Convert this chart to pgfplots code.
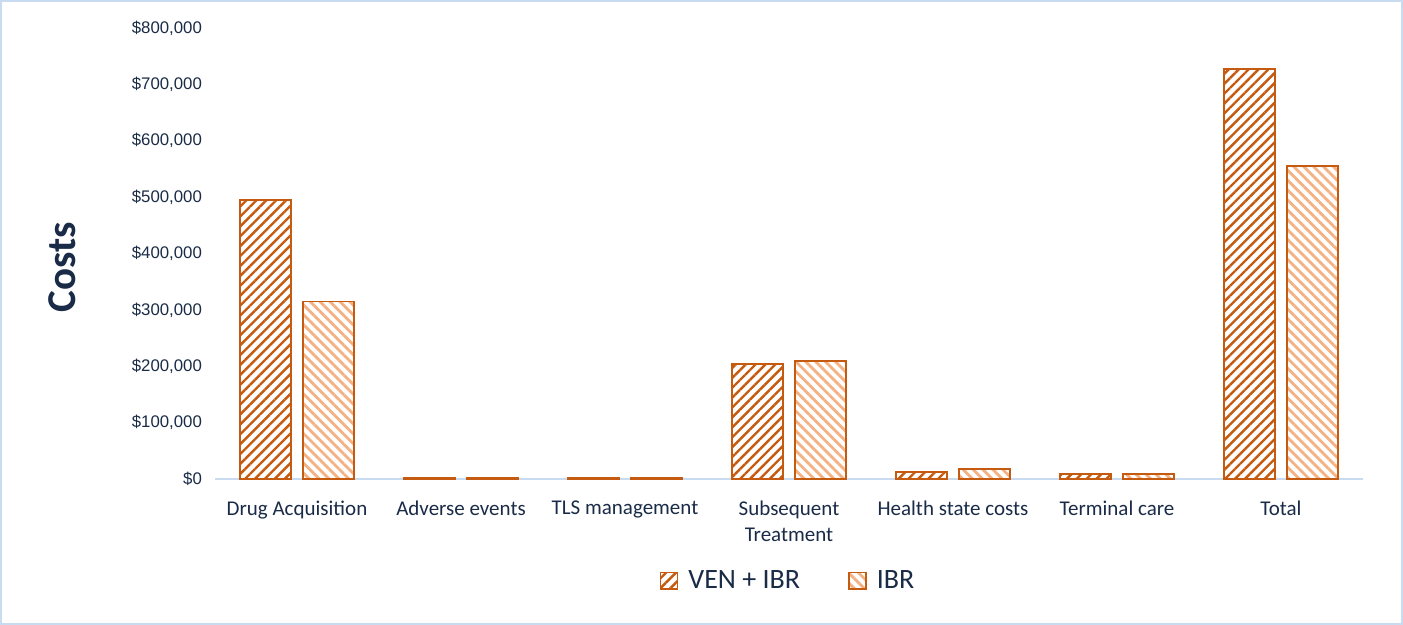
\documentclass[border=0pt]{standalone}
\usepackage{fontspec}
\setmainfont{Carlito}
\newfontfamily\tickfont{Liberation Sans}
\usepackage{pgfplots}
\pgfplotsset{compat=1.18}
\usetikzlibrary{patterns.meta}
\definecolor{dorange}{HTML}{C55A11}
\definecolor{lorange}{HTML}{F4B183}
\definecolor{txt}{HTML}{1A2B47}
\definecolor{bblue}{HTML}{C9DBF0}
\begin{document}
\begin{tikzpicture}
\path[use as bounding box] (0,0) rectangle (701.5pt,312.5pt);
\draw[bblue, line width=1.2pt] (0.6pt,0.6pt) rectangle (700.9pt,311.9pt);
\begin{axis}[
  at={(107.5pt,73pt)}, anchor=south west,
  scale only axis, width=574pt, height=225.5pt,
  xmin=-0.5, xmax=6.5, ymin=0, ymax=800000,
  ybar, bar width=25.5pt,
  xtick={0,...,6},
  xticklabels={Drug Acquisition,Adverse events,TLS management,{Subsequent\\Treatment},Health state costs,Terminal care,Total},
  xticklabel style={align=center, font=\fontsize{10.5}{13}\selectfont, text=txt, anchor=north, yshift=-7.5pt},
  ytick={0,100000,...,800000},
  yticklabels={{\$0},{\$100,000},{\$200,000},{\$300,000},{\$400,000},{\$500,000},{\$600,000},{\$700,000},{\$800,000}},
  yticklabel style={font=\tickfont\fontsize{8.4}{10}\selectfont, text=txt, xshift=-3pt},
  scaled y ticks=false,
  major tick length=0pt,
  axis x line*=bottom, axis y line*=left,
  y axis line style={draw=none},
  x axis line style={draw=bblue, line width=1pt, -},
  xtick style={draw=none}, ytick style={draw=none},
  ylabel={\bfseries Costs},
  ylabel style={font=\fontsize{20.5}{24}\selectfont, text=txt, at={(axis description cs:-0.1333,0.47)}, anchor=center, rotate=0},
  legend style={at={(0.5,-0.226)}, anchor=center, draw=none, legend columns=2,
    font=\fontsize{14}{16}\selectfont, text=txt,
    /tikz/every odd column/.append style={column sep=3pt},
    /tikz/every even column/.append style={column sep=22pt}},
  legend image code/.code={\draw[#1] (0pt,-4.2pt) rectangle (8.5pt,4.2pt);},
  clip=false,
]
\addplot[draw=dorange, line width=0.9pt, bar shift=-15.75pt,
  pattern={Lines[angle=45,distance=3.5pt,line width=1.2pt]}, pattern color=dorange]
  coordinates {(0,495000) (1,2000) (2,1500) (3,204000) (4,12500) (5,9000) (6,727000)};
\addplot[draw=dorange, line width=0.9pt, bar shift=15.75pt,
  pattern={Lines[angle=-45,distance=3.5pt,line width=1.4pt]}, pattern color=lorange]
  coordinates {(0,315000) (1,2000) (2,1500) (3,209000) (4,17500) (5,9000) (6,555000)};
\legend{VEN + IBR,IBR}
\end{axis}
\end{tikzpicture}
\end{document}
